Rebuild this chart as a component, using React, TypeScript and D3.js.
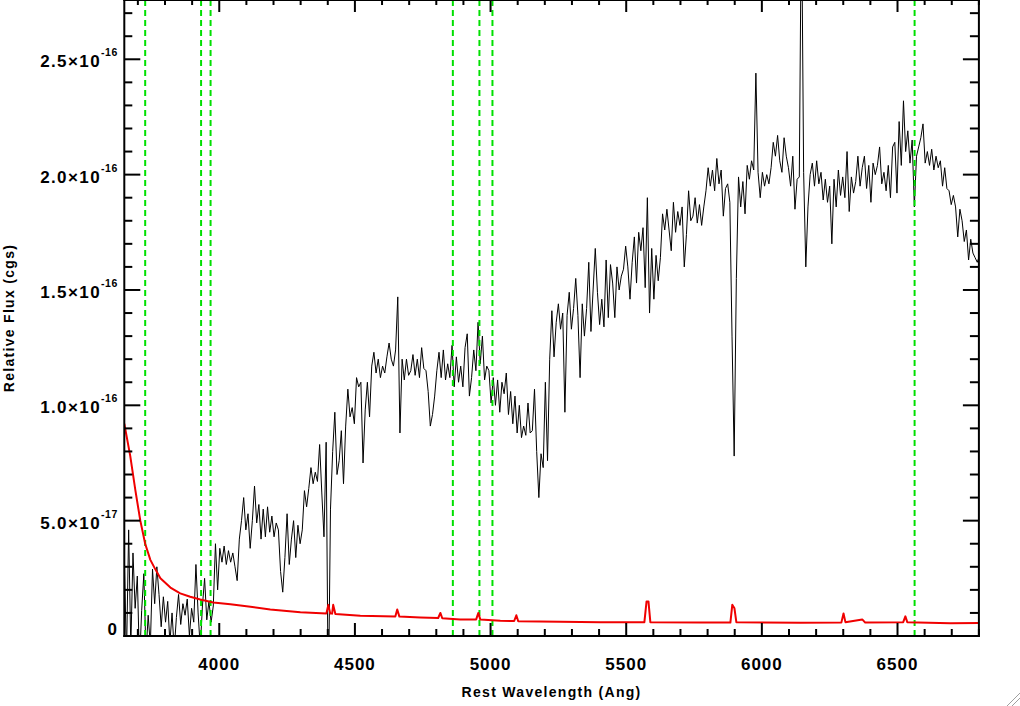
import React from "react";
import * as d3 from "d3";

// Spectrum sampled every 8 Å starting at 3650 Å; flux in units of 1e-17 cgs
const WAVE_START = 3650;
const WAVE_STEP = 8;
const FLUX_UNIT = 1e-17;

const fluxBlue = [
  3.5, -1.0, 4.6, -0.5, 3.6, 1.2, 2.6, -1.2, 1.1, 2.7, -0.8, 0.9, -0.4, 2.9, 1.4, 3.0, 1.8, 0.4, 1.7, 0.6,
  1.5, -0.3, 1.0, -0.6, 0.8, 1.8, 0.5, 1.4, 0.9, 1.6, 0.0, 1.2, 0.6, 3.1, 1.0, -0.5, 1.3, 2.5, 0.7, 1.5,
  0.6, 1.3, 4.0, 2.0, 3.8, 3.2, 3.9, 3.1, 3.7, 3.2, 3.6, 3.0, 2.4, 4.2, 5.0, 6.0, 4.6, 5.3, 3.8, 5.0,
  6.5, 4.9, 5.7, 4.2, 5.5, 4.3,
];
const fluxRise = [
  5.6, 4.5, 5.2, 4.3, 4.9, 4.6, 2.8, 1.9, 3.4, 5.3, 3.1, 4.2, 5.0, 3.4, 4.8, 4.0, 4.6, 6.3, 5.6, 6.4,
  7.3, 6.6, 7.1, 6.7, 8.3, 6.2, 4.3, 8.4, -3.0, 5.5, 8.0, 9.7, 7.0, 7.6, 8.9, 6.6, 9.1, 10.7, 9.5, 9.9,
  9.2, 11.2, 10.8, 11.0, 7.5, 9.8, 11.0, 9.5, 11.7, 12.3, 11.4, 12.0, 11.2, 11.7, 11.4, 12.1, 12.7, 12.0, 11.7, 12.4,
  14.7, 8.8, 12.0, 11.1, 12.0, 11.3,
];
const fluxPlateau = [
  11.5, 12.2, 11.3, 12.0, 11.2, 12.5, 11.6, 11.5, 10.6, 9.1, 9.6, 10.4, 11.5, 12.3, 11.2, 12.4, 11.1, 11.8, 11.2, 12.6,
  10.8, 12.1, 11.0, 11.7, 10.8, 12.5, 13.1, 10.4, 11.2, 12.4, 11.5, 13.6, 11.8, 13.0, 11.1, 11.7, 11.5, 10.1, 11.2, 10.0,
  11.1, 9.7, 11.0, 10.5, 11.4, 9.6, 10.6, 9.2, 10.4, 8.8, 10.0, 8.6, 9.1, 8.7, 10.1, 8.8, 8.9, 10.7, 8.0, 6.0,
  7.9, 7.3,
];
const fluxGreen = [
  11.0, 7.6, 12.0, 14.1, 12.1, 13.6, 14.4, 13.3, 14.0, 9.7, 13.9, 14.9, 13.3, 14.2, 15.5, 13.9, 11.2, 14.4, 13.0, 14.2,
  16.2, 13.2, 15.0, 16.8, 14.9, 13.5, 14.6, 13.4, 16.3, 13.8, 16.1, 15.3, 13.8, 16.0, 15.0, 15.6, 15.9, 16.9, 16.0, 14.6,
  16.2, 17.3, 15.3, 17.5, 16.7, 17.7, 15.1, 19.0, 14.0, 16.8, 14.6, 16.5, 15.4, 16.4, 18.3, 17.6, 18.5, 17.6, 16.7, 18.8,
  17.5, 18.4, 17.8, 18.6, 16.0, 17.4, 19.3, 18.0,
];
const fluxRed = [
  18.2, 19.0, 17.9, 18.7, 17.8, 18.6, 19.3, 20.3, 19.5, 20.2, 19.3, 20.7, 19.6, 20.2, 18.2, 19.4, 19.6, 18.8, 13.0, 7.8,
  15.5, 19.9, 18.6, 19.7, 18.3, 20.4, 19.8, 20.6, 20.2, 24.4, 20.1, 19.0, 20.1, 19.5, 20.0, 19.6, 20.3, 21.4, 20.8, 21.7,
  20.6, 20.1, 21.6, 20.8, 20.3, 19.5, 20.8, 18.5, 19.8, 19.9, 32.0, 20.1, 16.0, 18.6, 20.0, 20.5, 19.5, 20.6, 19.6, 20.1,
  18.9, 19.8, 18.8, 19.5,
];
const fluxFarRed = [
  17.0, 19.8, 18.6, 20.2, 19.1, 19.9, 19.0, 21.0, 18.4, 19.9, 19.2, 19.7, 20.8, 19.5, 20.3, 20.8, 19.4, 20.4, 18.8, 20.5,
  20.0, 20.4, 21.2, 19.6, 20.1, 19.3, 20.4, 19.0, 21.2, 21.4, 19.2, 22.3, 20.4, 23.2, 21.0, 21.9, 20.5, 21.5, 18.6, 20.8,
  21.2, 21.6, 22.2, 20.5, 21.0, 20.4, 21.1, 20.2, 20.8, 20.3, 20.6, 19.5, 20.3, 19.4, 19.3, 18.7, 19.1, 18.6, 17.3, 18.5,
  18.0, 17.1, 17.6, 16.3, 17.2, 16.6, 16.4, 16.2, 16.5, 16.4,
];

// Error spectrum: [wavelength Å, flux in 1e-17]
const errorSpectrum: [number, number][] = [
  [3650, 9.2], [3661, 8.5], [3672, 7.8], [3691, 6.3], [3709, 5.0], [3727, 4.0], [3746, 3.3], [3764, 2.9],
  [3783, 2.5], [3820, 2.1], [3856, 1.85], [3893, 1.7], [3930, 1.58], [3978, 1.45], [4041, 1.38], [4115, 1.27],
  [4188, 1.15], [4299, 1.03], [4395, 0.98], [4402, 1.35], [4409, 0.98], [4416, 0.97], [4420, 1.35], [4428, 0.95],
  [4520, 0.88], [4649, 0.85], [4656, 1.15], [4664, 0.84], [4741, 0.8], [4807, 0.78], [4815, 1.0], [4822, 0.77],
  [4888, 0.72], [4947, 0.72], [4955, 1.0], [4962, 0.72], [5036, 0.66], [5087, 0.65], [5095, 0.9], [5102, 0.64],
  [5257, 0.62], [5405, 0.6], [5567, 0.6], [5575, 1.5], [5582, 1.5], [5589, 0.6], [5773, 0.59], [5884, 0.58],
  [5891, 1.35], [5899, 1.2], [5906, 0.6], [6142, 0.57], [6293, 0.58], [6301, 0.98], [6308, 0.6], [6370, 0.72],
  [6381, 0.58], [6521, 0.6], [6529, 0.85], [6536, 0.6], [6695, 0.55], [6802, 0.56],
];

// Emission-line markers (Å): [OII], CaK, CaH, Hβ, [OIII], [OIII], Hα
const lineMarkers = [3727, 3933, 3968, 4861, 4959, 5007, 6563];

const xMajorTicks = [4000, 4500, 5000, 5500, 6000, 6500];
const yMajorTicks = [0, 5e-17, 1e-16, 1.5e-16, 2e-16, 2.5e-16];
const yTickMantissa = ["0", "5.0", "1.0", "1.5", "2.0", "2.5"];
const yTickExponent = ["", "-17", "-16", "-16", "-16", "-16"];

const X_DOMAIN: [number, number] = [3650, 6800];
const Y_DOMAIN: [number, number] = [0, 2.757e-16];

export default function App() {
  const W = 1020, H = 706;
  const left = 124.3, right = 978.9, top = 0, bottom = 636;
  const x = d3.scaleLinear().domain(X_DOMAIN).range([left, right]);
  const y = d3.scaleLinear().domain(Y_DOMAIN).range([bottom, top]);

  const fluxAll = [...fluxBlue, ...fluxRise, ...fluxPlateau, ...fluxGreen, ...fluxRed, ...fluxFarRed];
  const spectrum = fluxAll.map((f, i) => [WAVE_START + i * WAVE_STEP, f * FLUX_UNIT] as [number, number]);
  const err = errorSpectrum.map(([w, f]) => [w, f * FLUX_UNIT] as [number, number]);

  const line = d3.line<[number, number]>().x((d) => x(d[0])).y((d) => y(d[1]));

  const xMinor = d3.range(3700, 6801, 100).filter((v) => v % 500 !== 0);
  const yMinor = d3.range(1, 28).map((k) => k * 1e-17).filter((v, k) => (k + 1) % 5 !== 0);

  const font = "'Liberation Sans', Arial, Helvetica, sans-serif";
  const axisColor = "#000";

  return (
    <div style={{ position: "absolute", left: 0, top: 0, width: W, height: H, background: "#fff" }}>
      <svg width={W} height={H} viewBox={`0 0 ${W} ${H}`} style={{ display: "block" }}>
        <rect x={0} y={0} width={W} height={H} fill="#fff" />
        <defs>
          <clipPath id="plotClip">
            <rect x={left} y={top} width={right - left} height={bottom - top} />
          </clipPath>
        </defs>

        <g clipPath="url(#plotClip)">
          <path d={line(spectrum) ?? ""} fill="none" stroke="#000" strokeWidth={1} />
          {lineMarkers.map((w) => (
            <line key={w} x1={x(w)} x2={x(w)} y1={top} y2={bottom} stroke="#00e000" strokeWidth={2} strokeDasharray="6,4" />
          ))}
          <path d={line(err) ?? ""} fill="none" stroke="#f00000" strokeWidth={2} strokeLinejoin="round" />
        </g>

        {/* axes frame */}
        <line x1={left} x2={left} y1={top - 1} y2={bottom + 1} stroke={axisColor} strokeWidth={2} />
        <line x1={right} x2={right} y1={top - 1} y2={bottom + 1} stroke={axisColor} strokeWidth={2} />
        <line x1={left - 1} x2={right + 1} y1={bottom} y2={bottom} stroke={axisColor} strokeWidth={2} />
        <line x1={left - 1} x2={right + 1} y1={top} y2={top} stroke={axisColor} strokeWidth={2} />

        {/* x ticks */}
        {xMajorTicks.map((v) => (
          <g key={`xm${v}`}>
            <line x1={x(v)} x2={x(v)} y1={bottom} y2={bottom - 13} stroke={axisColor} strokeWidth={2} />
            <line x1={x(v)} x2={x(v)} y1={top} y2={top + 12} stroke={axisColor} strokeWidth={2} />
            <text x={x(v)} y={670} textAnchor="middle" fontFamily={font} fontWeight="bold" fontSize={17} letterSpacing={1}>
              {String(v)}
            </text>
          </g>
        ))}
        {xMinor.map((v) => (
          <g key={`xn${v}`}>
            <line x1={x(v)} x2={x(v)} y1={bottom} y2={bottom - 7} stroke={axisColor} strokeWidth={2} />
            <line x1={x(v)} x2={x(v)} y1={top} y2={top + 5} stroke={axisColor} strokeWidth={2} />
          </g>
        ))}

        {/* y ticks */}
        {yMajorTicks.map((v, i) => (
          <g key={`ym${i}`}>
            <line x1={left} x2={left + 16} y1={y(v)} y2={y(v)} stroke={axisColor} strokeWidth={2} />
            <line x1={right} x2={right - 16} y1={y(v)} y2={y(v)} stroke={axisColor} strokeWidth={2} />
            {i === 0 ? (
              <text x={117} y={635} textAnchor="end" fontFamily={font} fontWeight="bold" fontSize={17}>
                0
              </text>
            ) : (
              <text x={118} y={y(v) + 8} textAnchor="end" fontFamily={font} fontWeight="bold" fontSize={17} letterSpacing={1.4}>
                <tspan>{yTickMantissa[i]}×10</tspan>
                <tspan fontSize={10.5} letterSpacing={0.6} dy={-11}>{yTickExponent[i]}</tspan>
              </text>
            )}
          </g>
        ))}
        {yMinor.map((v, i) => (
          <g key={`yn${i}`}>
            <line x1={left} x2={left + 8} y1={y(v)} y2={y(v)} stroke={axisColor} strokeWidth={2} />
            <line x1={right} x2={right - 9} y1={y(v)} y2={y(v)} stroke={axisColor} strokeWidth={2} />
          </g>
        ))}

        {/* axis titles */}
        <text x={(left + right) / 2} y={697} textAnchor="middle" fontFamily={font} fontWeight="bold" fontSize={14} letterSpacing={1.3}>
          Rest Wavelength (Ang)
        </text>
        <text transform={`translate(14, ${(top + bottom) / 2}) rotate(-90)`} textAnchor="middle" fontFamily={font} fontWeight="bold" fontSize={14} letterSpacing={1.3}>
          Relative Flux (cgs)
        </text>

        {/* window resize grip */}
        <line x1={1007} y1={706} x2={1020} y2={693} stroke="#a0a0a0" strokeWidth={1} />
        <line x1={1012} y1={706} x2={1020} y2={698} stroke="#a0a0a0" strokeWidth={1} />
      </svg>
    </div>
  );
}
